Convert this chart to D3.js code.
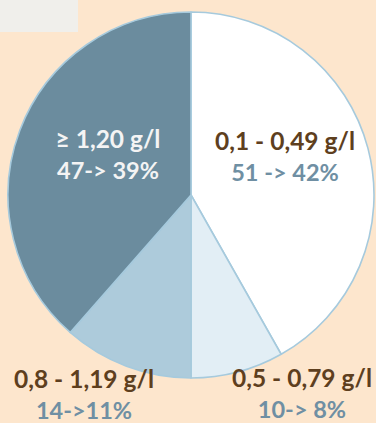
<!DOCTYPE html>
<html>
<head>
<meta charset="utf-8">
<script src="https://cdn.jsdelivr.net/npm/d3@7"></script>
<style>
  html, body { margin: 0; padding: 0; background: #fde6cd; }
  svg { display: block; }
  text { font-family: Lato, "Open Sans", sans-serif; font-weight: 700; }
</style>
</head>
<body>
<svg id="chart" width="376" height="423"></svg>
<script>
const categories = ['0,1 - 0,49 g/l', '0,5 - 0,79 g/l', '0,8 - 1,19 g/l', '≥ 1,20 g/l'];
const counts = [51, 10, 14, 47];
const shareLabels = ['51 -> 42%', '10-> 8%', '14->11%', '47-> 39%'];

const w = 376;
const h = 423;
const FILLS = ['#ffffff', '#e2eef5', '#adcbdb', '#6b8c9e'];
const NAME_COLORS = ['#5e3f1e', '#5e3f1e', '#5e3f1e', '#f4f4f4'];
const SHARE_COLORS = ['#6f8fa3', '#6f8fa3', '#6f8fa3', '#f4f4f4'];
// label anchors (baseline of the first line), tuned by eye
const LABEL_POS = [[285, 150], [302, 387], [84, 388], [108, 148]];
const LINE_GAP = 31;

const svg = d3.select('#chart');

svg.append('rect')
    .attr('x', 0).attr('y', 0)
    .attr('width', 78).attr('height', 32)
    .attr('fill', '#f0efeb');

const pie = d3.pie().sort(null).value(d => d)(counts);
const arc = d3.arc().innerRadius(0).outerRadius(183);

const g = svg.append('g').attr('transform', 'translate(191,195)');

g.selectAll('path')
    .data(pie)
    .enter()
    .append('path')
    .attr('d', arc)
    .attr('fill', (d, i) => FILLS[i])
    .attr('stroke', '#a6cadd')
    .attr('stroke-width', 1.6)
    .attr('stroke-linejoin', 'round');

const labels = svg.selectAll('.label')
    .data(categories)
    .enter()
    .append('g')
    .attr('class', 'label');

labels.append('text')
    .attr('x', (d, i) => LABEL_POS[i][0])
    .attr('y', (d, i) => LABEL_POS[i][1])
    .attr('text-anchor', 'middle')
    .style('font-size', '24.5px')
    .attr('fill', (d, i) => NAME_COLORS[i])
    .text(d => d);

labels.append('text')
    .attr('x', (d, i) => LABEL_POS[i][0])
    .attr('y', (d, i) => LABEL_POS[i][1] + LINE_GAP)
    .attr('text-anchor', 'middle')
    .style('font-size', '23.5px')
    .attr('fill', (d, i) => SHARE_COLORS[i])
    .text((d, i) => shareLabels[i]);
</script>
</body>
</html>
